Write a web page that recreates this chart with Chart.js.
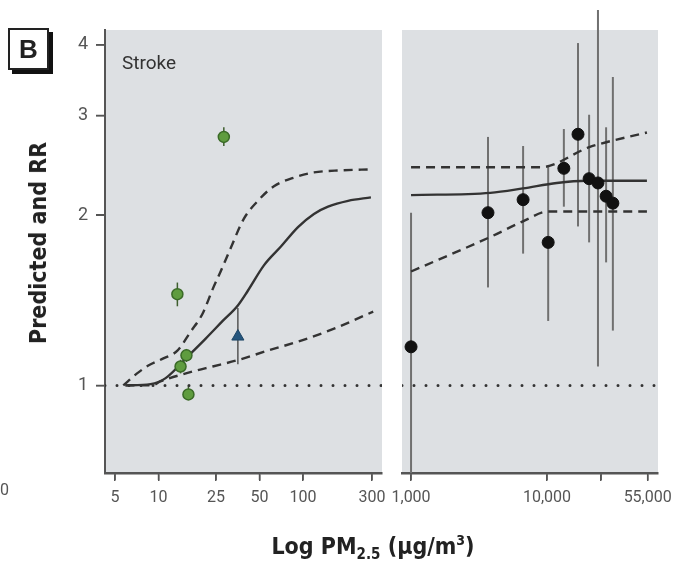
<!DOCTYPE html>
<html>
<head>
<meta charset="utf-8">
<script src="https://cdn.jsdelivr.net/npm/chart.js@4"></script>
<style>
  body { margin: 0; background: #fff; }
  #wrap { position: relative; width: 674px; height: 565px; overflow: hidden;
          font-family: Roboto, 'DejaVu Sans', sans-serif; }
  canvas { position: absolute; top: 0; }
  #leftChart { left: 0; }
  #rightChart { left: 392px; }
  .txt { position: absolute; white-space: nowrap; }
  .heavy { font-family: 'DejaVu Sans Condensed', 'DejaVu Sans', sans-serif; font-stretch: condensed;
           font-weight: bold; color: #222; }
  #panelTag { left: 8px; top: 28px; width: 37px; height: 38px; border: 2px solid #222;
              box-shadow: 4px 4px 0 #111; background: #fff; font: bold 26px 'Liberation Sans', sans-serif;
              text-align: center; line-height: 38px; color: #222; }
  #stroke { left: 122px; top: 51px; font-size: 19px; color: #333; }
  #yTitle { left: 38px; top: 243px; transform: translate(-50%, -50%) rotate(-90deg); font-size: 23px; }
  #xTitle { left: 373px; top: 547px; transform: translate(-50%, -50%); font-size: 23px; }
  #xTitle sub { font-size: 15px; vertical-align: -5px; }
  #xTitle sup { font-size: 14px; vertical-align: 9px; }
  #cut { left: 0px; top: 489px; font-size: 16px; color: #555; transform: translateY(-50%); }
</style>
</head>
<body>
<div id="wrap">
  <canvas id="leftChart" width="392" height="565"></canvas>
  <canvas id="rightChart" width="282" height="565"></canvas>
  <div class="txt" id="panelTag">B</div>
  <div class="txt" id="stroke">Stroke</div>
  <div class="txt heavy" id="yTitle">Predicted and RR</div>
  <div class="txt heavy" id="xTitle">Log PM<sub>2.5</sub> (µg/m<sup>3</sup>)</div>
  <div class="txt" id="cut">0</div>
</div>
<script>
// axis ranges and ticks
const yRange = [0.706, 4.25];
const yTicks = [1, 2, 3, 4];
const leftRange = [4.26, 352];
const leftTicks = [5, 10, 25, 50, 100, 300];
const leftTickLabels = ['5', '10', '25', '50', '100', '300'];
const rightRange = [858, 65500];
const rightTicks = [1000, 10000, 25000, 55000];
const rightTickLabels = ['1,000', '10,000', '', '55,000'];

// left panel: ambient PM2.5 studies (green) and SHS (triangle)
const studyX = [13.5, 28.3, 15.6, 14.2, 16.1];
const studyY = [1.45, 2.75, 1.13, 1.08, 0.964];
const studyLo = [1.38, 2.65, 1.10, 1.05, 0.945];
const studyHi = [1.52, 2.86, 1.16, 1.11, 1.0];
const shsX = [35.4];
const shsY = [1.22];
const shsLo = [1.09];
const shsHi = [1.37];

// left panel fitted curve and bounds
const leftFitX = [5.9, 8.8, 11.2, 16.2, 21.2, 27.8, 35.4, 41.5, 53.6, 70.3, 92.3, 119, 149, 205, 295];
const leftFitY = [1.0, 1.005, 1.03, 1.13, 1.21, 1.30, 1.385, 1.47, 1.63, 1.76, 1.905, 2.01, 2.07, 2.12, 2.15];
const leftUpX = [5.7, 7.1, 8.5, 10.8, 13.5, 16.7, 20.2, 23.7, 26.9, 31.6, 38.9, 48.7, 62.9, 86.6, 119, 184, 295];
const leftUpY = [1.0, 1.05, 1.084, 1.116, 1.152, 1.245, 1.34, 1.48, 1.59, 1.75, 1.97, 2.12, 2.25, 2.33, 2.38, 2.40, 2.41];
const leftLowX = [5.9, 9.0, 10.3, 17.2, 23.7, 34.3, 57, 97, 164, 306];
const leftLowY = [1.0, 1.0, 1.016, 1.058, 1.08, 1.106, 1.152, 1.20, 1.26, 1.35];

// right panel: active smoking studies
const smokeX = [1000, 3680, 6670, 10200, 13300, 16900, 20400, 23700, 27200, 30500];
const smokeY = [1.17, 2.02, 2.13, 1.79, 2.42, 2.78, 2.32, 2.28, 2.16, 2.10];
const smokeLo = [0.70, 1.49, 1.71, 1.30, 2.07, 1.91, 1.79, 1.08, 1.65, 1.25];
const smokeHi = [2.02, 2.75, 2.65, 2.44, 2.84, 4.03, 3.01, 4.61, 2.86, 3.51];

// right panel fitted curve and bounds
const rightFitX = [1000, 3830, 6650, 11800, 19600, 54300];
const rightFitY = [2.17, 2.19, 2.23, 2.28, 2.30, 2.30];
const rightUpX = [1000, 8900, 20700, 54300];
const rightUpY = [2.43, 2.43, 2.64, 2.80];
const rightLowX = [1000, 3830, 6650, 10200, 54300];
const rightLowY = [1.59, 1.83, 1.95, 2.03, 2.03];

const refY = 1;

const tickFont = "Roboto, 'DejaVu Sans', sans-serif";

function pts(xs, ys) { return xs.map((x, i) => ({ x: x, y: ys[i] })); }

const panelBg = {
    id: 'panelBg',
    beforeDraw(chart) {
        const a = chart.chartArea, ctx = chart.ctx;
        ctx.save();
        ctx.fillStyle = '#dde0e3';
        ctx.fillRect(a.left, a.top, a.right - a.left, a.bottom - a.top);
        ctx.restore();
    }
};

// outward tick marks on the axis lines
const tickMarks = {
    id: 'tickMarks',
    afterDraw(chart) {
        const ctx = chart.ctx, a = chart.chartArea, xs = chart.scales.x, ys = chart.scales.y;
        ctx.save();
        ctx.strokeStyle = '#555';
        ctx.lineWidth = 1.5;
        ctx.beginPath();
        xs.ticks.forEach(t => {
            const px = xs.getPixelForValue(t.value);
            ctx.moveTo(px, a.bottom);
            ctx.lineTo(px, a.bottom + 7);
        });
        if (ys.options.display) {
            ys.ticks.forEach(t => {
                const py = ys.getPixelForValue(t.value);
                ctx.moveTo(a.left - 9, py);
                ctx.lineTo(a.left, py);
            });
        }
        ctx.stroke();
        ctx.restore();
    }
};

const errorBars = {
    id: 'errorBars',
    beforeDatasetsDraw(chart) {
        const ctx = chart.ctx, xs = chart.scales.x, ys = chart.scales.y;
        chart.data.datasets.forEach(ds => {
            if (!ds.errLo) return;
            ctx.save();
            ctx.strokeStyle = ds.errColor;
            ctx.lineWidth = ds.errWidth;
            ds.data.forEach((p, i) => {
                const px = xs.getPixelForValue(p.x);
                const top = ys.getPixelForValue(ds.errHi[i]);
                const bot = Math.min(ys.getPixelForValue(ds.errLo[i]), chart.chartArea.bottom);
                ctx.beginPath();
                ctx.moveTo(px, top);
                ctx.lineTo(px, bot);
                ctx.stroke();
            });
            ctx.restore();
        });
    }
};

function lineSet(xs, ys, dashed) {
    return {
        type: 'line', data: pts(xs, ys), borderColor: '#333', borderWidth: 2.4,
        borderDash: dashed ? [9, 6] : [], pointRadius: 0, fill: false,
        cubicInterpolationMode: 'monotone'
    };
}

function refSet(range) {
    return {
        type: 'line', data: [{ x: range[0], y: refY }, { x: range[1], y: refY }],
        borderColor: '#333', borderWidth: 3, borderDash: [0, 12], borderCapStyle: 'round',
        pointRadius: 0, fill: false
    };
}

function xScale(range, ticks, labels, fitHeight) {
    return {
        type: 'logarithmic', min: range[0], max: range[1],
        afterBuildTicks: s => { s.ticks = ticks.map(v => ({ value: v })); },
        afterFit: s => { s.height = fitHeight; s.paddingLeft = 0; s.paddingRight = 0; },
        border: { display: true, color: '#555', width: 2.5 },
        grid: { display: true, drawOnChartArea: false, drawTicks: true, tickLength: 8, color: '#555',
                tickColor: '#555', tickWidth: 1.5, lineWidth: 1.5 },
        ticks: {
            autoSkip: false, maxRotation: 0, padding: 7, color: '#555',
            font: { family: tickFont, size: 16 },
            callback: v => { const k = ticks.indexOf(v); return k >= 0 ? labels[k] : ''; }
        }
    };
}

function yScale(show) {
    return {
        type: 'logarithmic', min: yRange[0], max: yRange[1], display: show,
        afterBuildTicks: s => { s.ticks = yTicks.map(v => ({ value: v })); },
        afterFit: s => { s.width = show ? 105 : 0; s.paddingTop = 0; s.paddingBottom = 0; },
        border: { display: true, color: '#555', width: 2 },
        grid: { display: true, drawOnChartArea: false, drawTicks: true, tickLength: 9, color: '#555',
                tickColor: '#555', tickWidth: 1.5, lineWidth: 1.5 },
        ticks: {
            padding: 8, color: '#555', font: { family: tickFont, size: 18 },
            callback: v => yTicks.includes(v) ? String(v) : ''
        }
    };
}

const commonOpts = {
    responsive: false, animation: false, events: [],
    plugins: { legend: { display: false }, tooltip: { enabled: false } }
};

new Chart(document.getElementById('leftChart'), {
    type: 'scatter',
    data: {
        datasets: [
            {
                data: pts(studyX, studyY), pointStyle: 'circle', pointRadius: 5.5,
                backgroundColor: '#5f9c3f', borderColor: '#3a6a27', borderWidth: 1.5,
                errLo: studyLo, errHi: studyHi, errColor: '#3e5e2e', errWidth: 1.5
            },
            {
                data: pts(shsX, shsY), pointStyle: 'triangle', pointRadius: 7,
                backgroundColor: '#24557d', borderColor: '#1d4566', borderWidth: 1,
                errLo: shsLo, errHi: shsHi, errColor: '#555', errWidth: 1.5
            },
            lineSet(leftFitX, leftFitY, false),
            lineSet(leftUpX, leftUpY, true),
            lineSet(leftLowX, leftLowY, true),
            refSet(leftRange)
        ]
    },
    options: Object.assign({}, commonOpts, {
        layout: { padding: { top: 30, right: 10, bottom: 0, left: 0 } },
        scales: {
            x: xScale(leftRange, leftTicks, leftTickLabels, 92),
            y: yScale(true)
        }
    }),
    plugins: [panelBg, errorBars, tickMarks]
});

new Chart(document.getElementById('rightChart'), {
    type: 'scatter',
    data: {
        datasets: [
            {
                data: pts(smokeX, smokeY), pointStyle: 'circle', pointRadius: 6,
                backgroundColor: '#111', borderColor: '#111', borderWidth: 1,
                errLo: smokeLo, errHi: smokeHi, errColor: '#707070', errWidth: 2
            },
            lineSet(rightFitX, rightFitY, false),
            lineSet(rightUpX, rightUpY, true),
            lineSet(rightLowX, rightLowY, true),
            refSet(rightRange)
        ]
    },
    options: Object.assign({}, commonOpts, {
        layout: { padding: { top: 30, right: 16, bottom: 0, left: 10 } },
        scales: {
            x: xScale(rightRange, rightTicks, rightTickLabels, 92),
            y: yScale(false)
        }
    }),
    plugins: [panelBg, errorBars, tickMarks]
});
</script>
</body>
</html>
